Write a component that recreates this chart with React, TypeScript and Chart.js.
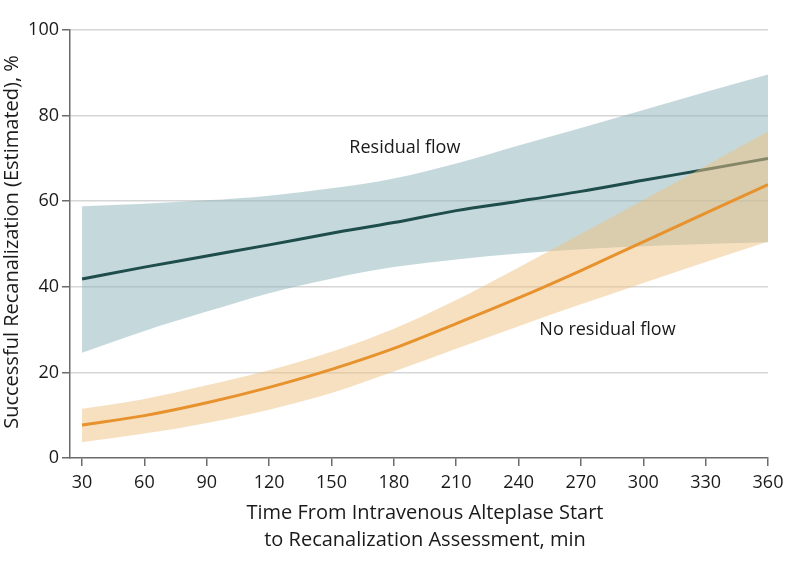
import React, { useEffect, useRef } from "react";
import { Chart, registerables } from "chart.js";

Chart.register(...registerables);

const times = [30, 60, 90, 120, 150, 180, 210, 240, 270, 300, 330, 360];
const residualEst = [41.8, 44.6, 47.2, 49.8, 52.5, 55.0, 57.8, 60.0, 62.3, 64.9, 67.4, 70.0];
const residualUpper = [58.8, 59.4, 60.2, 61.3, 63.0, 65.3, 68.8, 73.0, 77.1, 81.3, 85.5, 89.6];
const residualLower = [24.6, 29.7, 34.2, 38.5, 41.9, 44.6, 46.4, 47.8, 48.8, 49.5, 50.0, 50.4];
const noResidualEst = [7.7, 9.9, 12.9, 16.5, 20.7, 25.6, 31.4, 37.4, 43.8, 50.5, 57.2, 63.9];
const noResidualUpper = [11.5, 13.8, 17.0, 20.5, 24.8, 30.2, 36.9, 44.5, 52.4, 60.3, 68.3, 76.3];
const noResidualLower = [3.7, 5.7, 8.2, 11.3, 15.2, 20.2, 25.5, 30.8, 35.9, 40.9, 45.8, 50.6];

const xTicks = [30, 60, 90, 120, 150, 180, 210, 240, 270, 300, 330, 360];
const yTicks = [0, 20, 40, 60, 80, 100];

const seriesLabels = ["Residual flow", "No residual flow"];
const labelAnchors = [
  { x: 158.6, y: 72.5 },
  { x: 250, y: 30 },
];

const xTitle = ["Time From Intravenous Alteplase Start", "to Recanalization Assessment, min"];
const yTitle = "Successful Recanalization (Estimated), %";

const FONT = "'Open Sans', sans-serif";
const TEXT = "#1a1a1a";
const AXIS = "#6b6b6b";

const pts = (ys: number[]) => times.map((t, i) => ({ x: t, y: ys[i] }));

export default function App() {
  const ref = useRef<HTMLCanvasElement | null>(null);

  useEffect(() => {
    document.body.style.margin = "0";
    const canvas = ref.current;
    if (!canvas) return;

    const textPlugin = {
      id: "texts",
      afterDatasetsDraw(chart: any) {
        const { ctx, scales } = chart;
        ctx.save();
        ctx.fillStyle = TEXT;
        ctx.font = `18px ${FONT}`;
        ctx.textAlign = "left";
        ctx.textBaseline = "middle";
        seriesLabels.forEach((s, i) => {
          ctx.fillText(
            s,
            scales.x.getPixelForValue(labelAnchors[i].x),
            scales.y.getPixelForValue(labelAnchors[i].y)
          );
        });
        ctx.restore();
      },
      afterDraw(chart: any) {
        const { ctx, chartArea } = chart;
        ctx.save();
        ctx.fillStyle = TEXT;
        ctx.font = `20px ${FONT}`;
        ctx.textAlign = "center";
        ctx.textBaseline = "middle";
        const cx = (chartArea.left + chartArea.right) / 2 + 6;
        ctx.fillText(xTitle[0], cx, chartArea.bottom + 55);
        ctx.fillText(xTitle[1], cx, chartArea.bottom + 82);
        ctx.translate(12, (chartArea.top + chartArea.bottom) / 2 - 2);
        ctx.rotate(-Math.PI / 2);
        ctx.fillText(yTitle, 0, 0);
        ctx.restore();
      },
    };

    const band = (data: number[], color: string, order: number, fill: any) => ({
      data: pts(data),
      borderWidth: 0,
      pointRadius: 0,
      backgroundColor: color,
      borderColor: "transparent",
      fill,
      order,
      cubicInterpolationMode: "monotone" as const,
    });

    const chart = new Chart(canvas, {
      type: "line",
      data: {
        datasets: [
          band(residualLower, "rgba(0,0,0,0)", 6, false),
          band(residualUpper, "rgba(140,180,185,0.5)", 5, 0),
          {
            data: pts(residualEst),
            borderColor: "#1f4d4c",
            borderWidth: 3,
            pointRadius: 0,
            fill: false,
            order: 4,
            cubicInterpolationMode: "monotone" as const,
          },
          band(noResidualLower, "rgba(0,0,0,0)", 3, false),
          band(noResidualUpper, "rgba(237,193,129,0.5)", 2, 3),
          {
            data: pts(noResidualEst),
            borderColor: "#e8922e",
            borderWidth: 3,
            pointRadius: 0,
            fill: false,
            order: 1,
            cubicInterpolationMode: "monotone" as const,
          },
        ] as any,
      },
      options: {
        animation: false,
        responsive: false,
        maintainAspectRatio: false,
        layout: { padding: { left: 0, right: 30, top: 30, bottom: 0 } },
        plugins: {
          legend: { display: false },
          tooltip: { enabled: false },
        },
        scales: {
          x: {
            type: "linear",
            min: 24.2,
            max: 360,
            afterBuildTicks: (s: any) => {
              s.ticks = xTicks.map((v) => ({ value: v }));
            },
            afterFit: (s: any) => {
              s.height = 112;
            },
            ticks: {
              color: TEXT,
              font: { family: FONT, size: 18 },
              padding: 6,
              maxRotation: 0,
              autoSkip: false,
            },
            grid: {
              drawOnChartArea: false,
              tickLength: 8,
              tickColor: AXIS,
              lineWidth: 1.5,
            },
            border: { color: AXIS, width: 1.5 },
          },
          y: {
            type: "linear",
            min: 0,
            max: 100,
            afterBuildTicks: (s: any) => {
              s.ticks = yTicks.map((v) => ({ value: v }));
            },
            afterFit: (s: any) => {
              s.width = 70;
            },
            ticks: {
              color: TEXT,
              font: { family: FONT, size: 18 },
              padding: 3,
            },
            grid: {
              color: (c: any) => (c.tick && c.tick.value === 0 ? "rgba(0,0,0,0)" : "#d6d6d6"),
              lineWidth: 1.5,
              tickLength: 8,
              tickColor: AXIS,
            },
            border: { color: AXIS, width: 1.5 },
          },
        },
      },
      plugins: [textPlugin],
    });

    return () => chart.destroy();
  }, []);

  return (
    <div style={{ position: "fixed", left: 0, top: 0, width: 798, height: 570, background: "#fff" }}>
      <canvas ref={ref} width={798} height={570} style={{ width: 798, height: 570, display: "block" }} />
    </div>
  );
}
